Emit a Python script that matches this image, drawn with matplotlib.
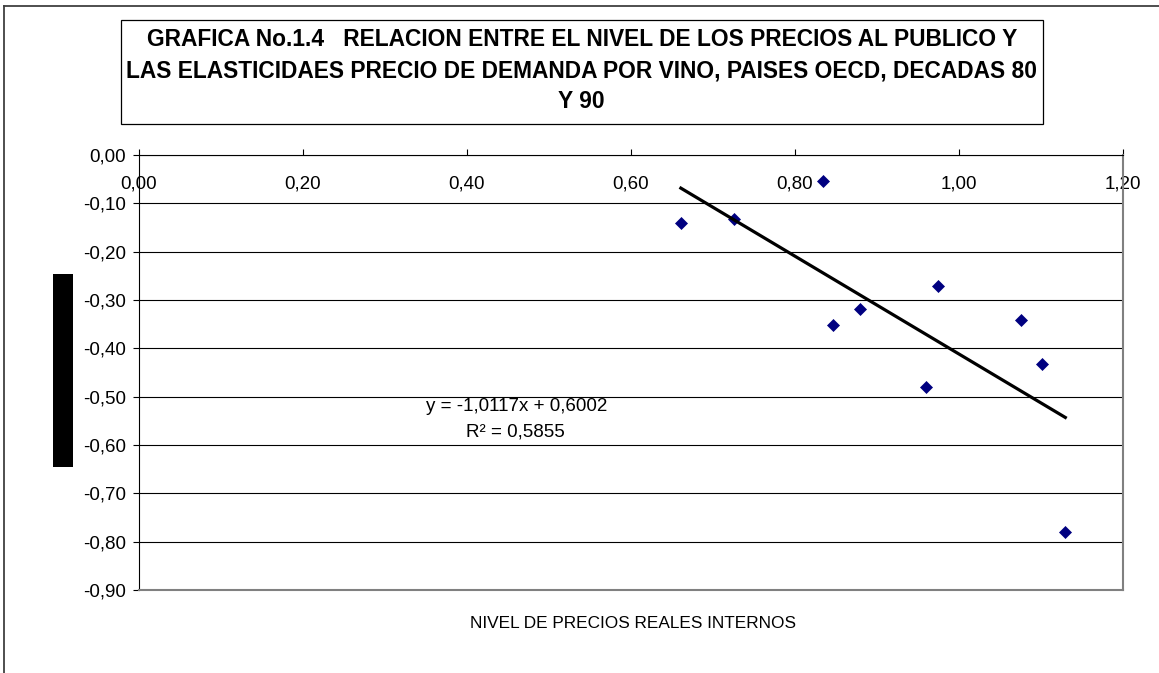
import numpy as np
import matplotlib.pyplot as plt
from matplotlib.patches import Rectangle
from matplotlib.lines import Line2D
from matplotlib.ticker import FuncFormatter

plt.rcParams['font.family'] = ['Liberation Sans', 'DejaVu Sans']

# precios reales internos vs elasticidad precio de la demanda de vino
precio = [0.661, 0.726, 0.835, 0.846, 0.880, 0.975, 0.960, 1.076, 1.102, 1.130]
elasticidad = [-0.140, -0.133, -0.054, -0.352, -0.319, -0.272, -0.479, -0.341, -0.432, -0.779]

# tendencia lineal
pendiente = -1.0117
intercepto = 0.6002
r2 = 0.5855

xticks = [0.0, 0.2, 0.4, 0.6, 0.8, 1.0, 1.2]
yticks = [0.0, -0.1, -0.2, -0.3, -0.4, -0.5, -0.6, -0.7, -0.8, -0.9]

titulo = ["GRAFICA No.1.4   RELACION ENTRE EL NIVEL DE LOS PRECIOS AL PUBLICO Y",
          "LAS ELASTICIDAES PRECIO DE DEMANDA POR VINO, PAISES OECD, DECADAS 80",
          "Y 90"]
xlabel = "NIVEL DE PRECIOS REALES INTERNOS"

W, H = 1159, 673
fig = plt.figure(figsize=(W / 100, H / 100), dpi=100)


def fx(px):
    return px / W


def fy(py):
    return 1 - py / H


def coma(v, pos=None):
    if abs(v) < 1e-9:
        v = 0.0
    return f"{v:.2f}".replace(".", ",")


# marco exterior del grafico
fig.add_artist(Line2D([fx(3.5), fx(3.5)], [fy(5.7), 0], color="#404040", lw=1.3))
fig.add_artist(Line2D([fx(3.5), 1], [fy(5.7), fy(5.7)], color="#404040", lw=1.3))

# cuadro del titulo
fig.add_artist(Rectangle((fx(120.7), fy(124)), fx(1042.7) - fx(120.7), fy(20) - fy(124),
                         fill=False, edgecolor="black", lw=0.9))
for i, linea in enumerate(titulo):
    fig.text(fx(581.7), fy(40 + 31 * i), linea, ha="center", va="center",
             fontsize=16.4, fontweight="bold")

# titulo del eje y (bloque negro)
fig.add_artist(Rectangle((fx(53), fy(467)), fx(73) - fx(53), fy(274) - fy(467),
                         facecolor="black", edgecolor="none"))

ax = fig.add_axes([fx(139), fy(590), fx(1122.7) - fx(139), fy(155) - fy(590)])
ax.set_xlim(0, 1.2)
ax.set_ylim(-0.9, 0)

ax.set_yticks(yticks)
ax.yaxis.set_major_formatter(FuncFormatter(coma))
ax.yaxis.grid(True, color="black", lw=0.8)
ax.set_axisbelow(True)

ax.set_xticks(xticks)
ax.xaxis.set_major_formatter(FuncFormatter(coma))
ax.xaxis.set_ticks_position("top")
ax.tick_params(axis="x", direction="out", length=4, width=0.8, pad=-31, labelsize=13.5)
ax.tick_params(axis="y", direction="out", length=4.3, width=0.8, pad=5, labelsize=13.5)

ax.spines["top"].set_color("black")
ax.spines["top"].set_linewidth(0.8)
ax.spines["left"].set_color("black")
ax.spines["left"].set_linewidth(0.8)
ax.spines["right"].set_color("#808080")
ax.spines["right"].set_linewidth(1.5)
ax.spines["bottom"].set_color("#808080")
ax.spines["bottom"].set_linewidth(1.5)

ax.plot(precio, elasticidad, linestyle="none", marker="D", markersize=6.2,
        color="#000080", markeredgewidth=0.5, zorder=3)

xt = np.array([min(precio), max(precio)])
ax.plot(xt, pendiente * xt + intercepto, color="black", lw=2.3, zorder=4)

eq = f"y = {pendiente:.4f}x + {intercepto:.4f}".replace(".", ",")
ax.text(0.461, -0.521, eq, ha="center", va="center", fontsize=13.5)
ax.text(0.459, -0.573, f"R² = {r2:.4f}".replace(".", ","), ha="center", va="center",
        fontsize=13.5)

fig.text(fx(633), fy(623), xlabel, ha="center", va="center", fontsize=12.4)

fig.savefig("out.png", dpi=100)
